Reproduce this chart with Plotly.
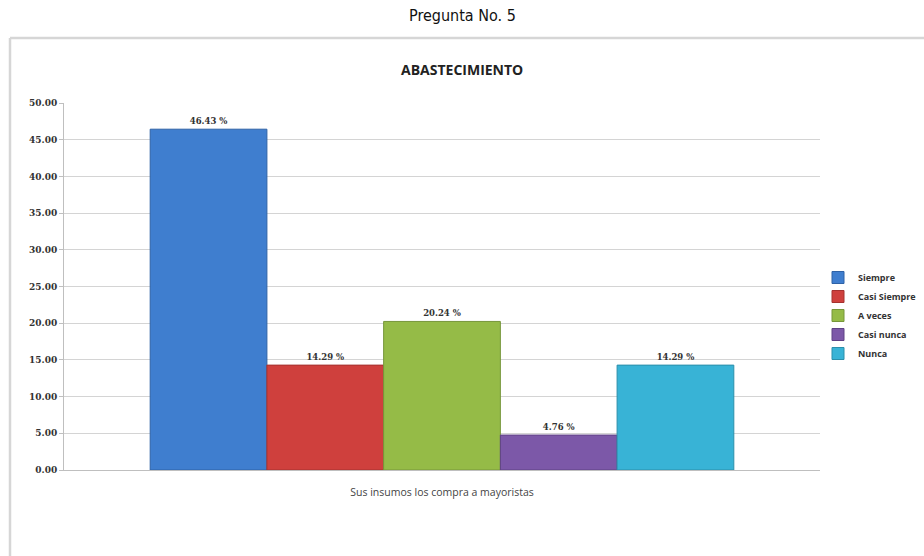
import plotly.graph_objects as go

# Survey question 5: supply source (percentage of respondents)
category = ["Sus insumos los compra a mayoristas"]
answers = ["Siempre", "Casi Siempre", "A veces", "Casi nunca", "Nunca"]
percentages = [46.43, 14.29, 20.24, 4.76, 14.29]
colors = ["#3f7ecf", "#cf403d", "#95bb47", "#7c58a8", "#38b3d6"]
outlines = ["#2f62a6", "#a53230", "#76963a", "#5f4285", "#2b8fab"]
y_ticks = [0, 5, 10, 15, 20, 25, 30, 35, 40, 45, 50]

fig = go.Figure()
for name, val, col, edge in zip(answers, percentages, colors, outlines):
    fig.add_trace(go.Bar(
        x=category, y=[val], name=name,
        marker=dict(color=col, line=dict(color=edge, width=1)),
        texttemplate="%{y:.2f} %", textposition="outside",
        textfont=dict(family="DejaVu Serif", size=8.5, color="#333333", weight="bold"),
        cliponaxis=False,
    ))

L, R, T, B = 64, 104, 103, 86
W, H = 924, 556
pw, ph = W - L - R, H - T - B

def px(x):
    return (x - L) / pw

def py(y):
    return (H - B - y) / ph

fig.update_layout(
    width=W, height=H,
    margin=dict(l=L, r=R, t=T, b=B, autoexpand=False),
    paper_bgcolor="white", plot_bgcolor="white",
    barmode="group", bargap=0.228, bargroupgap=0,
    showlegend=True,
    legend=dict(x=px(818), y=py(263), xanchor="left", yanchor="top",
                font=dict(family="Open Sans", size=9, color="#333333", weight="bold"),
                tracegroupgap=0, itemwidth=30, bgcolor="rgba(0,0,0,0)"),
    xaxis=dict(showline=True, linecolor="#bfbfbf", linewidth=1,
               tickfont=dict(family="Open Sans", size=10.5, color="#444444"),
               ticks="", showgrid=False, ticklabelstandoff=12),
    yaxis=dict(range=[0, 50], tickvals=y_ticks, tickformat=".2f",
               showgrid=True, gridcolor="#d4d4d4", gridwidth=1,
               showline=True, linecolor="#bfbfbf", linewidth=1,
               ticks="outside", ticklen=4, tickcolor="#bfbfbf",
               tickfont=dict(family="DejaVu Serif", size=9, color="#333333", weight="bold"),
               zeroline=False),
    annotations=[
        dict(text="Pregunta No. 5", xref="paper", yref="paper",
             x=px(462), y=py(16), xanchor="center", yanchor="middle",
             showarrow=False,
             font=dict(family="DejaVu Sans Condensed, Liberation Sans Narrow, sans-serif",
                       size=16, color="#111111")),
        dict(text="<b>ABASTECIMIENTO</b>", xref="paper", yref="paper",
             x=px(462), y=py(70), xanchor="center", yanchor="middle",
             showarrow=False,
             font=dict(family="Open Sans", size=14, color="#222222")),
    ],
    shapes=[
        dict(type="line", xref="paper", yref="paper",
             x0=px(10), x1=px(930), y0=py(38), y1=py(38),
             line=dict(color="#d6d6d6", width=2.5)),
        dict(type="line", xref="paper", yref="paper",
             x0=px(10), x1=px(10), y0=py(38), y1=py(560),
             line=dict(color="#d6d6d6", width=2.5)),
    ],
)

fig.write_html("out.html")
